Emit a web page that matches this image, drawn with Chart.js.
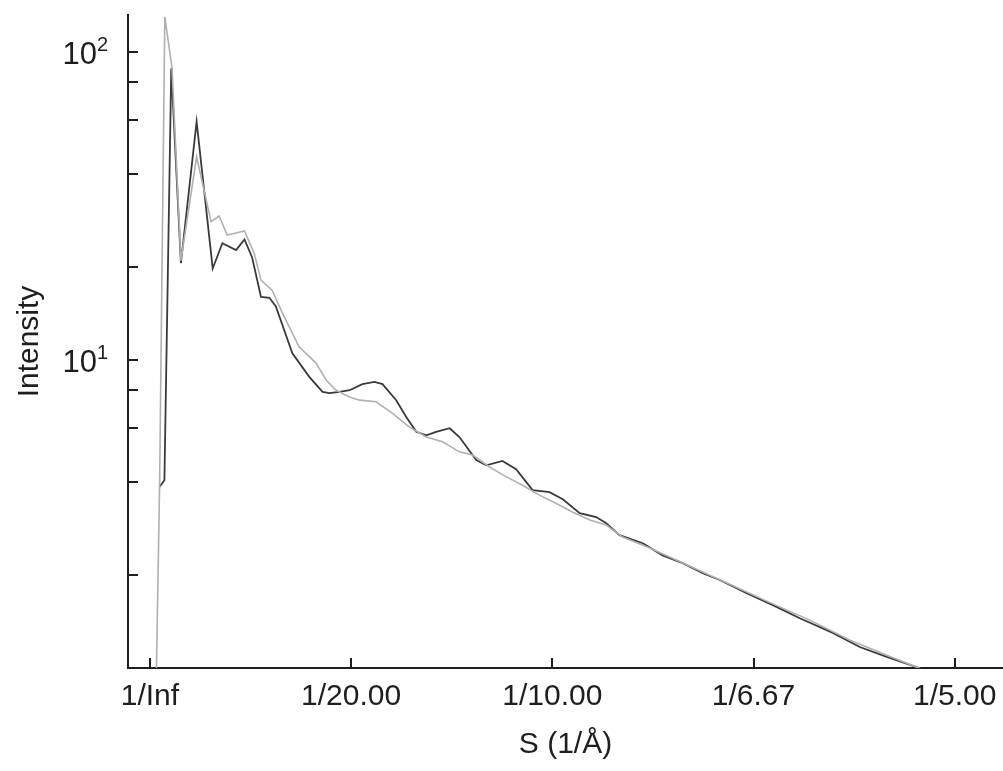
<!DOCTYPE html>
<html>
<head>
<meta charset="utf-8">
<script src="https://cdn.jsdelivr.net/npm/chart.js@4.4.1/dist/chart.umd.min.js"></script>
<style>
  html, body { margin: 0; padding: 0; background: #fff; }
  #c { display: block; }
</style>
</head>
<body>
<canvas id="c" width="1003" height="771"></canvas>
<script>
// S values (1/Å) and intensities
var darkS = [0.0023, 0.0036, 0.0053, 0.0077, 0.0116, 0.0156, 0.0180, 0.0214, 0.0235, 0.0254,
  0.0276, 0.0297, 0.0313, 0.0354, 0.0396, 0.0429, 0.0446, 0.0471, 0.0496, 0.0528,
  0.0558, 0.0578, 0.0612, 0.0637, 0.0662, 0.0687, 0.0711, 0.0745, 0.0769, 0.0811,
  0.0836, 0.0876, 0.0910, 0.0951, 0.0993, 0.1026, 0.1068, 0.1109, 0.1134, 0.1167,
  0.1225, 0.1274, 0.1324, 0.1374, 0.1416, 0.1483, 0.1548, 0.1615, 0.1697, 0.1764,
  0.1831, 0.1914];
var darkI = [3.86, 4.07, 88.3, 20.6, 59.3, 19.8, 23.9, 22.7, 24.6, 21.5,
  16.0, 15.9, 14.9, 10.5, 8.81, 7.87, 7.80, 7.87, 7.97, 8.34,
  8.48, 8.34, 7.40, 6.53, 5.84, 5.69, 5.84, 6.00, 5.62, 4.73,
  4.55, 4.70, 4.42, 3.78, 3.72, 3.53, 3.18, 3.09, 2.95, 2.70,
  2.54, 2.32, 2.19, 2.03, 1.93, 1.75, 1.60, 1.45, 1.30, 1.17,
  1.086, 0.998];

var lightS = [0.0016, 0.0024, 0.0037, 0.0055, 0.0077, 0.0116, 0.0152, 0.0172, 0.0192, 0.0214,
  0.0235, 0.0259, 0.0276, 0.0304, 0.0329, 0.0371, 0.0413, 0.0438, 0.0463, 0.0496,
  0.0521, 0.0562, 0.0603, 0.0645, 0.0687, 0.0727, 0.0769, 0.0802, 0.0844, 0.0886,
  0.0926, 0.0968, 0.1010, 0.1050, 0.1093, 0.1134, 0.1175, 0.1242, 0.1342, 0.1441,
  0.1541, 0.1640, 0.1740, 0.1839, 0.1919];
var lightI = [0.97, 3.9, 129.9, 88.5, 21.0, 45.6, 28.1, 29.3, 25.4, 25.8,
  26.2, 22.2, 18.15, 16.8, 14.2, 11.0, 9.76, 8.59, 7.97, 7.58,
  7.40, 7.31, 6.71, 6.05, 5.62, 5.42, 5.03, 4.91, 4.49, 4.17,
  3.92, 3.64, 3.42, 3.21, 3.02, 2.91, 2.66, 2.45, 2.14, 1.87,
  1.63, 1.43, 1.23, 1.09, 0.99];

var xTickValues = [0, 0.05, 0.10, 0.15, 0.20];
var xTickLabels = ['1/Inf', '1/20.00', '1/10.00', '1/6.67', '1/5.00'];
var yTickValues = [1, 2, 4, 6, 8, 10, 20, 40, 60, 80, 100];
// decade labels: base and exponent
var yDecades = [10, 100];
var yExponents = ['1', '2'];

function pts(xs, ys) {
  return xs.map(function (x, i) { return { x: x, y: ys[i] }; });
}

var axisColor = '#1e1e1e';
var fontFam = '"Liberation Sans", Arial, sans-serif';

// inward ticks and 10^n labels
var axisExtras = {
  id: 'axisExtras',
  afterDraw: function (chart) {
    var ctx = chart.ctx, a = chart.chartArea;
    var xs = chart.scales.x, ys = chart.scales.y;
    ctx.save();
    ctx.strokeStyle = axisColor;
    ctx.lineWidth = 2;
    ctx.beginPath();
    xs.ticks.forEach(function (t) {
      var p = Math.round(xs.getPixelForValue(t.value));
      ctx.moveTo(p, a.bottom);
      ctx.lineTo(p, a.bottom - 10);
    });
    ys.ticks.forEach(function (t) {
      var p = Math.round(ys.getPixelForValue(t.value));
      ctx.moveTo(a.left, p);
      ctx.lineTo(a.left + 10, p);
    });
    ctx.stroke();

    ctx.fillStyle = axisColor;
    ctx.textBaseline = 'alphabetic';
    yDecades.forEach(function (v, i) {
      var p = ys.getPixelForValue(v);
      ctx.font = '20px ' + fontFam;
      ctx.textAlign = 'right';
      var right = a.left - 20;
      ctx.fillText(yExponents[i], right, p - 1);
      var ew = ctx.measureText(yExponents[i]).width;
      ctx.font = '31px ' + fontFam;
      ctx.fillText('10', right - ew, p + 12);
    });
    ctx.restore();
  }
};

Chart.defaults.font.family = fontFam;
Chart.defaults.color = axisColor;

new Chart(document.getElementById('c'), {
  type: 'line',
  data: {
    datasets: [
      { label: 'light', data: pts(lightS, lightI), borderColor: '#b0b0b0', borderWidth: 1.6 },
      { label: 'dark', data: pts(darkS, darkI), borderColor: '#3a3a3a', borderWidth: 1.8 }
    ]
  },
  options: {
    responsive: false,
    devicePixelRatio: 1,
    animation: false,
    elements: { point: { radius: 0 }, line: { tension: 0 } },
    layout: { padding: { top: 15, right: 0, left: 0, bottom: 0 } },
    plugins: { legend: { display: false }, tooltip: { enabled: false } },
    scales: {
      x: {
        type: 'linear',
        min: -0.00545,
        max: 0.2120,
        afterFit: function (s) {
          s.height = 103;
          s.paddingLeft = 0;
          s.paddingRight = 0;
        },
        afterBuildTicks: function (s) {
          s.ticks = xTickValues.map(function (v) { return { value: v }; });
        },
        grid: { display: false, drawTicks: false },
        border: { display: true, color: axisColor, width: 2 },
        ticks: {
          padding: 11,
          maxRotation: 0,
          autoSkip: false,
          font: { size: 30 },
          callback: function (v) {
            var i = xTickValues.indexOf(v);
            return i >= 0 ? xTickLabels[i] : '';
          }
        },
        title: { display: true, text: 'S (1/\u00C5)', font: { size: 30 }, padding: { top: 0, bottom: 8 } }
      },
      y: {
        type: 'logarithmic',
        min: 1,
        max: 131.6,
        afterFit: function (s) {
          s.width = 128;
          s.paddingTop = 0;
          s.paddingBottom = 0;
        },
        afterBuildTicks: function (s) {
          s.ticks = yTickValues.map(function (v) { return { value: v }; });
        },
        grid: { display: false, drawTicks: false },
        border: { display: true, color: axisColor, width: 2 },
        ticks: {
          padding: 20,
          autoSkip: false,
          callback: function () { return ''; }
        },
        title: { display: true, text: 'Intensity', font: { size: 30 }, padding: { top: 12, bottom: 0 } }
      }
    }
  },
  plugins: [axisExtras]
});
</script>
</body>
</html>
